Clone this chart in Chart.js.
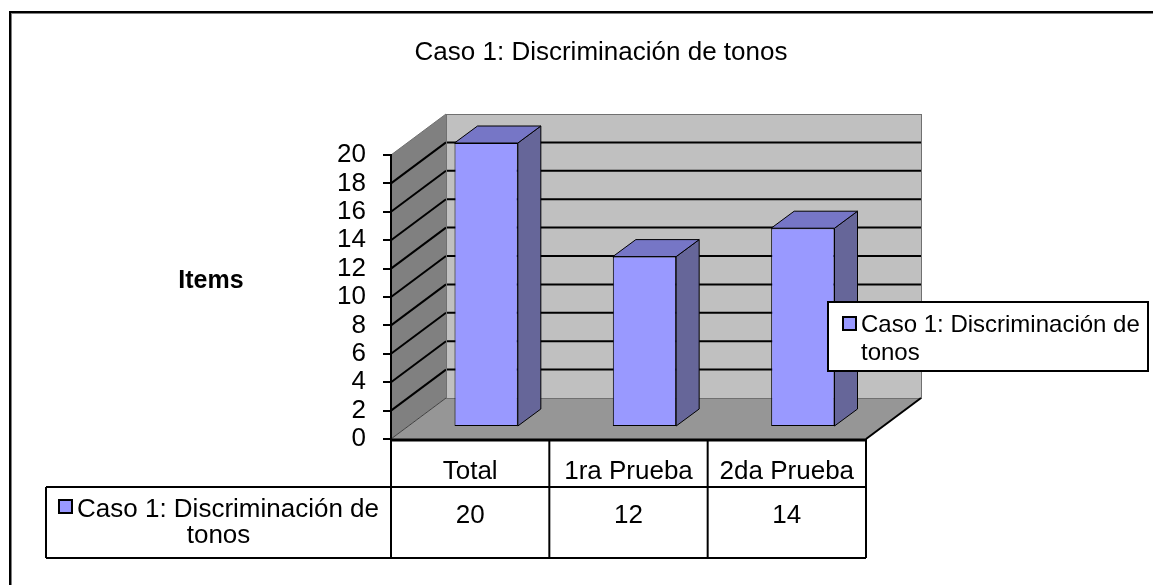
<!DOCTYPE html>
<html>
<head>
<meta charset="utf-8">
<title>Caso 1: Discriminación de tonos</title>
<script src="https://cdn.jsdelivr.net/npm/chart.js@4.4.1/dist/chart.umd.min.js"></script>
<style>
  html, body { margin: 0; padding: 0; background: #fff; }
  #chart { display: block; }
</style>
</head>
<body>
<canvas id="chart" width="1153" height="585"></canvas>
<script>
const chartTitle = "Caso 1: Discriminación de tonos";
const axisTitle = "Items";
const categories = ["Total", "1ra Prueba", "2da Prueba"];
const seriesName = "Caso 1: Discriminación de tonos";
const seriesValues = [20, 12, 14];
const yMin = 0;
const yMax = 20;
const yStep = 2;

const FONT = "Arial, 'Liberation Sans', sans-serif";
const DEPTH = { x: 55, y: -41 };     // front plane -> back wall
const BAR_SHIFT = { x: 16, y: -12 }; // bars sit part way back
const BAR_DEPTH = { x: 23, y: -17 }; // thickness of each bar

function poly(ctx, pts, fill, stroke, lw) {
  ctx.beginPath();
  ctx.moveTo(pts[0][0], pts[0][1]);
  for (let i = 1; i < pts.length; i++) ctx.lineTo(pts[i][0], pts[i][1]);
  ctx.closePath();
  if (fill) { ctx.fillStyle = fill; ctx.fill(); }
  if (stroke) { ctx.strokeStyle = stroke; ctx.lineWidth = lw || 1; ctx.stroke(); }
}

function line(ctx, x1, y1, x2, y2, color, lw) {
  ctx.beginPath();
  ctx.moveTo(x1, y1);
  ctx.lineTo(x2, y2);
  ctx.strokeStyle = color;
  ctx.lineWidth = lw;
  ctx.stroke();
}

// split the series name into two lines like the original
function nameLines() {
  const i = seriesName.lastIndexOf(" ");
  return [seriesName.slice(0, i), seriesName.slice(i + 1)];
}

function swatch(ctx, x, y, s) {
  ctx.fillStyle = "#9999FF";
  ctx.fillRect(x, y, s, s);
  ctx.strokeStyle = "#000";
  ctx.lineWidth = 2;
  ctx.strokeRect(x, y, s, s);
}

const scene3d = {
  id: "scene3d",
  beforeDraw(chart) {
    const { ctx, chartArea: a, scales: { y } } = chart;
    const y0 = y.getPixelForValue(yMin);
    const yTop = y.getPixelForValue(yMax);
    const dx = DEPTH.x, dy = DEPTH.y;
    ctx.save();
    ctx.fillStyle = "#fff";
    ctx.fillRect(0, 0, chart.width, chart.height);

    // outer frame (runs off the right and bottom edge)
    ctx.strokeStyle = "#808080";
    ctx.lineWidth = 1;
    ctx.strokeRect(11.5, 13.5, 1400, 900);
    ctx.strokeStyle = "#000";
    ctx.lineWidth = 2;
    ctx.strokeRect(10, 12, 1400, 900);

    // back wall
    ctx.fillStyle = "#C0C0C0";
    ctx.fillRect(a.left + dx, yTop + dy, a.right - a.left, y0 - yTop);
    // side wall
    poly(ctx, [[a.left, y0], [a.left, yTop], [a.left + dx, yTop + dy], [a.left + dx, y0 + dy]], "#808080");
    // floor
    poly(ctx, [[a.left, y0], [a.right, y0], [a.right + dx, y0 + dy], [a.left + dx, y0 + dy]], "#969696");

    // gridlines on both walls
    y.ticks.forEach(t => {
      if (t.value <= yMin || t.value >= yMax) return;
      const py = y.getPixelForValue(t.value);
      line(ctx, a.left, py, a.left + dx, py + dy, "#000", 2);
      line(ctx, a.left + dx, py + dy, a.right + dx, py + dy, "#000", 2);
    });

    // wall edges
    ctx.strokeStyle = "#707070";
    ctx.lineWidth = 1;
    ctx.strokeRect(a.left + dx + 0.5, yTop + dy + 0.5, a.right - a.left, y0 - yTop);
    line(ctx, a.left, yTop, a.left + dx, yTop + dy, "#707070", 1);
    line(ctx, a.left, y0, a.left + dx, y0 + dy, "#404040", 1);
    line(ctx, a.right, y0, a.right + dx, y0 + dy, "#000", 2);
    ctx.restore();
  },
  beforeDatasetsDraw(chart) {
    chart.ctx.save();
    chart.ctx.translate(BAR_SHIFT.x, BAR_SHIFT.y);
  },
  afterDatasetsDraw(chart) {
    const { ctx } = chart;
    const meta = chart.getDatasetMeta(0);
    const bx = BAR_DEPTH.x, by = BAR_DEPTH.y;
    meta.data.forEach(bar => {
      const { x, y, base, width } = bar.getProps(["x", "y", "base", "width"], true);
      const l = x - width / 2, r = x + width / 2;
      // right side
      poly(ctx, [[r, y], [r + bx, y + by], [r + bx, base + by], [r, base]], "#666699", "#000", 1);
      // top
      poly(ctx, [[l, y], [l + bx, y + by], [r + bx, y + by], [r, y]], "#7676C6", "#000", 1);
    });
    ctx.restore();
  },
  afterDraw(chart) {
    const { ctx, chartArea: a, scales: { x, y } } = chart;
    const y0 = y.getPixelForValue(yMin);
    ctx.save();
    ctx.fillStyle = "#000";
    ctx.textBaseline = "alphabetic";

    // title
    ctx.font = "26px " + FONT;
    ctx.textAlign = "center";
    ctx.fillText(chartTitle, 601, 60);

    // axis title
    ctx.font = "bold 25px " + FONT;
    ctx.fillText(axisTitle, 211, 288);

    // data table
    const rowTop = y0 + 48;
    const rowBottom = rowTop + 71;
    const labelLeft = 46;
    const half = (a.right - a.left) / categories.length / 2;
    line(ctx, a.left, y0 + 1, a.right, y0 + 1, "#000", 3);
    line(ctx, a.left, y.getPixelForValue(yMax), a.left, rowBottom, "#000", 2);
    line(ctx, labelLeft, rowTop, a.right, rowTop, "#000", 2);
    line(ctx, labelLeft, rowBottom, a.right, rowBottom, "#000", 2);
    line(ctx, labelLeft, rowTop, labelLeft, rowBottom, "#000", 2);
    ctx.font = "26px " + FONT;
    ctx.textAlign = "center";
    categories.forEach((c, i) => {
      const cx = x.getPixelForValue(i);
      line(ctx, cx + half, y0, cx + half, rowBottom, "#000", 2);
      ctx.fillStyle = "#000";
      ctx.fillText(c, cx, rowTop - 8);
      ctx.fillText(String(seriesValues[i]), cx, rowTop + 36);
    });

    // row label with swatch
    const [l1, l2] = nameLines();
    const w1 = ctx.measureText(l1).width;
    const mid = (labelLeft + a.left) / 2;
    const start = mid - (w1 + 19) / 2;
    swatch(ctx, start + 1, 500, 13);
    ctx.fillStyle = "#000";
    ctx.textAlign = "left";
    ctx.fillText(l1, start + 19, rowTop + 30);
    ctx.textAlign = "center";
    ctx.fillText(l2, mid, rowTop + 56);

    // legend
    ctx.fillStyle = "#fff";
    ctx.fillRect(828, 302, 320, 69);
    ctx.strokeStyle = "#000";
    ctx.lineWidth = 2;
    ctx.strokeRect(828, 302, 320, 69);
    swatch(ctx, 843, 317, 13);
    ctx.fillStyle = "#000";
    ctx.font = "24px " + FONT;
    ctx.textAlign = "left";
    ctx.fillText(l1, 861, 332);
    ctx.fillText(l2, 861, 360);
    ctx.restore();
  }
};

new Chart(document.getElementById("chart"), {
  type: "bar",
  data: {
    labels: categories,
    datasets: [
      {
        label: seriesName,
        data: seriesValues,
        backgroundColor: "#9999FF",
        borderColor: "#000",
        borderWidth: 1,
        borderSkipped: false,
        barPercentage: 0.4,
        categoryPercentage: 1,
        clip: false,
      },
    ],
  },
  options: {
    responsive: false,
    animation: false,
    devicePixelRatio: 1,
    layout: { padding: { left: 291, right: 287, top: 155, bottom: 146 } },
    plugins: {
      legend: { display: false },
      title: { display: false },
      tooltip: { enabled: false },
    },
    scales: {
      x: { display: false },
      y: {
        min: yMin,
        max: yMax,
        afterFit: (s) => { s.width = 100; },
        ticks: {
          stepSize: yStep,
          autoSkip: false,
          padding: 17,
          color: "#000",
          font: { family: FONT, size: 26, lineHeight: 1 },
        },
        grid: {
          drawOnChartArea: false,
          drawTicks: true,
          tickLength: 8,
          color: "#000",
          lineWidth: 2,
        },
        border: { display: true, color: "#000", width: 2 },
      },
    },
  },
  plugins: [scene3d],
});
</script>
</body>
</html>
